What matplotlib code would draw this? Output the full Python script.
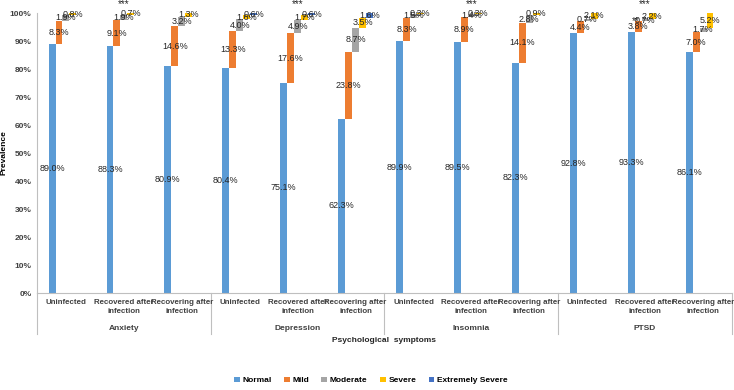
import matplotlib
matplotlib.use("Agg")
import matplotlib.pyplot as plt
import matplotlib.transforms as mtransforms
import numpy as np

plt.rcParams['font.family'] = ['Liberation Sans', 'DejaVu Sans']

symptoms = ["Anxiety", "Depression", "Insomnia", "PTSD"]
groups = ["Uninfected", "Recovered after\ninfection", "Recovering after\ninfection"]
levels = ["Normal", "Mild", "Moderate", "Severe", "Extremely Severe"]
colors = ["#5B9BD5", "#ED7D31", "#A5A5A5", "#FFC000", "#4472C4"]

# one entry per category (symptom x group), in %
normal   = [89.0, 88.3, 80.9, 80.4, 75.1, 62.3, 89.9, 89.5, 82.3, 92.8, 93.3, 86.1]
mild     = [8.3, 9.1, 14.6, 13.3, 17.6, 23.8, 8.3, 8.9, 14.1, 4.4, 3.8, 7.0]
moderate = [1.9, 1.9, 3.2, 4.0, 4.9, 8.7, 1.5, 1.4, 2.8, 0.7, 0.7, 1.7]
severe   = [0.8, 0.7, 1.3, 1.6, 1.7, 3.5, 0.3, 0.3, 0.9, 2.1, 2.2, 5.2]
extreme  = [0.0, 0.0, 0.0, 0.6, 0.6, 1.6, 0.0, 0.0, 0.0, 0.0, 0.0, 0.0]
stars = {1: "***", 4: "***", 7: "***", 10: "***"}

data = np.array([normal, mild, moderate, severe, extreme])
n = data.shape[1]
x = np.arange(n)
w = 0.12
offsets = (np.arange(5) - 2) * w

fig = plt.figure(figsize=(7.34, 3.9), dpi=100)
ax = fig.add_axes([37 / 734, 97 / 390, 695 / 734, 280 / 390])

fs = 6
bottom = np.zeros(n)
for i in range(5):
    vals = data[i]
    ax.bar(x + offsets[i], vals, w, bottom=bottom, color=colors[i], label=levels[i])
    for j in range(n):
        if vals[j] > 0:
            ax.text(x[j] + offsets[i], bottom[j] + vals[j] / 2, f"{vals[j]:.1f}%",
                    ha="center", va="center", fontsize=6.5, color="#262626")
    bottom = bottom + vals

for j, s in stars.items():
    ax.text(x[j], 103.2, s, ha="center", va="center", fontsize=7, color="#262626", clip_on=False)
ax.text(x[10] - 0.17, 97.0, "**", ha="center", va="center", fontsize=7, color="#262626")

ax.set_xlim(-0.5, n - 0.5)
ax.set_ylim(0, 100)
ax.set_yticks(np.arange(0, 101, 10))
ax.set_yticklabels([f"{v}%" for v in range(0, 101, 10)], fontsize=fs, fontweight="bold", color="#404040")
ax.tick_params(axis="y", length=0, pad=4)
ax.set_xticks([])
for sp in ["top", "right"]:
    ax.spines[sp].set_visible(False)
ax.spines["left"].set_color("#BFBFBF")
ax.spines["bottom"].set_color("#BFBFBF")
ax.set_ylabel("Prevalence", fontsize=fs, fontweight="bold")
ax.yaxis.set_label_coords(-0.043, 0.5)

trans = mtransforms.blended_transform_factory(ax.transData, ax.transAxes)
for j in range(n):
    ax.text(x[j], -0.022, groups[j % 3], transform=trans, ha="center", va="top",
            fontsize=5.7, fontweight="bold", color="#404040", linespacing=1.45)
for k, s in enumerate(symptoms):
    ax.text(3 * k + 1, -0.125, s, transform=trans, ha="center", va="center",
            fontsize=fs, fontweight="bold", color="#404040")
for b in np.arange(0, n + 1, 3) - 0.5:
    ax.plot([b, b], [0, -0.145], transform=trans, color="#BFBFBF", lw=0.8, clip_on=False)
ax.text(0.5, -0.168, "Psychological  symptoms", transform=ax.transAxes, ha="center", va="center",
        fontsize=fs, fontweight="bold", color="#262626")

fig.legend(loc="lower center", bbox_to_anchor=(0.505, -0.005), ncol=5, frameon=False,
           handlelength=0.7, handleheight=0.7, handletextpad=0.3, columnspacing=1.5,
           prop={"weight": "bold", "size": fs})

fig.savefig("out.png", dpi=100)
